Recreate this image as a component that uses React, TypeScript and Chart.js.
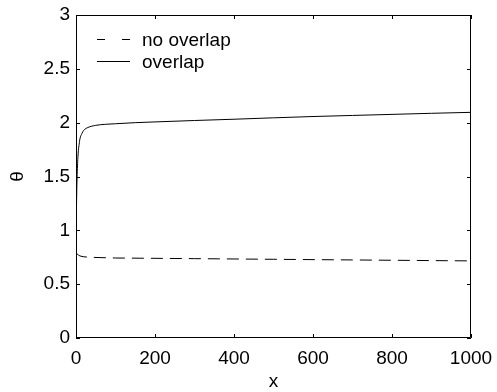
import React, { useEffect, useRef } from "react";
import { Chart, registerables } from "chart.js";

Chart.register(...registerables);

const xTicks = [0, 200, 400, 600, 800, 1000];
const yTicks = [0, 0.5, 1, 1.5, 2, 2.5, 3];

const overlapX = [0, 1, 2, 3, 4, 5, 6, 8, 10, 15, 20, 30, 50, 75, 100, 150, 200, 300, 400, 500, 600, 700, 800, 900, 1000];
const overlapY = [0.85, 1.15, 1.38, 1.52, 1.62, 1.69, 1.74, 1.8, 1.85, 1.9, 1.93, 1.955, 1.975, 1.985, 1.99, 2.0, 2.007, 2.02, 2.032, 2.045, 2.057, 2.067, 2.077, 2.087, 2.096];

const noOverlapX = [0, 3, 6, 10, 20, 40, 100, 200, 300, 400, 500, 600, 700, 800, 900, 1000];
const noOverlapY = [0.79, 0.78, 0.772, 0.762, 0.754, 0.749, 0.743, 0.74, 0.737, 0.734, 0.731, 0.728, 0.725, 0.722, 0.719, 0.716];

const seriesLabels = ["no overlap", "overlap"];
const xTitle = "x";
const yTitle = "θ";

const FONT = "Liberation Sans, Arial, Helvetica, sans-serif";

export default function App() {
  const ref = useRef<HTMLCanvasElement | null>(null);

  useEffect(() => {
    const canvas = ref.current;
    if (!canvas) return;

    const frame = {
      id: "frame",
      afterDraw(chart: any) {
        const { ctx, chartArea } = chart;
        const { left, right, top, bottom } = chartArea;
        const xs = chart.scales.x;
        const ys = chart.scales.y;
        ctx.save();
        ctx.strokeStyle = "#000";
        ctx.lineWidth = 1;
        ctx.setLineDash([]);
        ctx.beginPath();
        ctx.rect(left + 0.5, top + 0.5, right - left - 1, bottom - top - 1);
        ctx.stroke();
        const tl = 4;
        ctx.beginPath();
        for (const v of xTicks) {
          const px = Math.round(xs.getPixelForValue(v)) + 0.5;
          ctx.moveTo(px, bottom);
          ctx.lineTo(px, bottom - tl);
          ctx.moveTo(px, top);
          ctx.lineTo(px, top + tl);
        }
        for (const v of yTicks) {
          const py = Math.round(ys.getPixelForValue(v)) + 0.5;
          ctx.moveTo(left, py);
          ctx.lineTo(left + tl, py);
          ctx.moveTo(right, py);
          ctx.lineTo(right - tl, py);
        }
        ctx.stroke();

        // legend
        ctx.font = `19px ${FONT}`;
        ctx.fillStyle = "#000";
        ctx.textAlign = "left";
        ctx.textBaseline = "alphabetic";
        const rows = [
          { y: 39, dash: [8, 17] },
          { y: 61, dash: [] as number[] },
        ];
        rows.forEach((r, i) => {
          ctx.beginPath();
          ctx.setLineDash(r.dash);
          ctx.moveTo(97, r.y + 0.5);
          ctx.lineTo(130, r.y + 0.5);
          ctx.stroke();
          ctx.setLineDash([]);
          ctx.fillText(seriesLabels[i], 142, r.y + 7);
        });

        // axis titles
        ctx.textAlign = "center";
        ctx.fillText(xTitle, (left + right) / 2, 387);
        ctx.save();
        ctx.translate(18, (top + bottom) / 2);
        ctx.rotate(-Math.PI / 2);
        ctx.textBaseline = "middle";
        ctx.fillText(yTitle, 0, 0);
        ctx.restore();
        ctx.restore();
      },
    };

    const chart = new Chart(canvas, {
      type: "line",
      data: {
        datasets: [
          {
            label: seriesLabels[0],
            data: noOverlapX.map((x, i) => ({ x, y: noOverlapY[i] })),
            borderColor: "#000",
            borderWidth: 1,
            borderDash: [12, 7],
            pointRadius: 0,
            tension: 0,
          },
          {
            label: seriesLabels[1],
            data: overlapX.map((x, i) => ({ x, y: overlapY[i] })),
            borderColor: "#000",
            borderWidth: 1,
            pointRadius: 0,
            cubicInterpolationMode: "monotone",
          },
        ],
      },
      options: {
        animation: false,
        responsive: false,
        events: [],
        layout: { padding: { left: 0, top: 15, right: 26, bottom: 0 } },
        plugins: { legend: { display: false }, tooltip: { enabled: false } },
        scales: {
          x: {
            type: "linear",
            min: 0,
            max: 1000,
            afterFit: (s: any) => {
              s.height = 54;
              s.paddingLeft = 0;
              s.paddingRight = 0;
            },
            afterBuildTicks: (s: any) => {
              s.ticks = xTicks.map((v) => ({ value: v }));
            },
            grid: { display: false, drawTicks: false },
            border: { display: false },
            ticks: {
              padding: 9,
              color: "#000",
              font: { family: FONT, size: 19 },
              maxRotation: 0,
              callback: (v: any) => String(v),
            },
          },
          y: {
            type: "linear",
            min: 0,
            max: 3,
            afterFit: (s: any) => {
              s.width = 76;
              s.paddingTop = 0;
              s.paddingBottom = 0;
            },
            afterBuildTicks: (s: any) => {
              s.ticks = yTicks.map((v) => ({ value: v }));
            },
            grid: { display: false, drawTicks: false },
            border: { display: false },
            ticks: {
              padding: 6,
              color: "#000",
              font: { family: FONT, size: 19 },
              callback: (v: any) => String(v),
            },
          },
        },
      },
      plugins: [frame],
    });
    return () => chart.destroy();
  }, []);

  return (
    <div style={{ position: "absolute", left: 0, top: 0, width: 497, height: 392, background: "#fff" }}>
      <canvas ref={ref} width={497} height={392} style={{ display: "block" }} />
    </div>
  );
}
